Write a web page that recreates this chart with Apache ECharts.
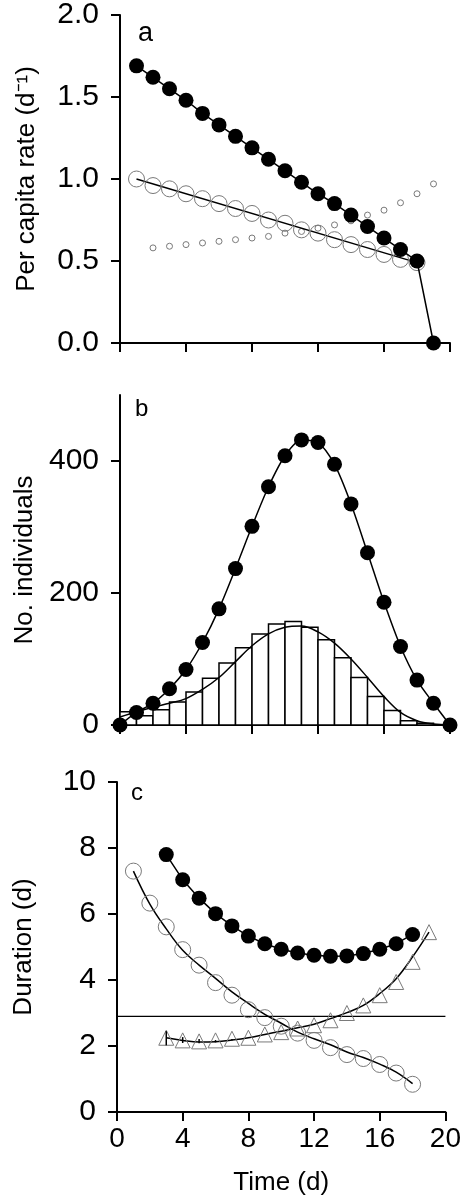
<!DOCTYPE html>
<html><head><meta charset="utf-8">
<script src="https://cdn.jsdelivr.net/npm/echarts@6/dist/echarts.min.js"></script>
<style>html,body{margin:0;padding:0;background:#fff}#c{width:464px;height:1199px}</style>
</head><body><div id="c"></div>
<script>
// ---------- Panel a ----------
const aFilledX = [1,2,3,4,5,6,7,8,9,10,11,12,13,14,15,16,17,18,19];
const aFilledY = [1.69,1.62,1.55,1.48,1.40,1.33,1.26,1.19,1.12,1.05,0.98,0.91,0.85,0.78,0.71,0.64,0.57,0.50,0.00];
const aOpenX = [1,2,3,4,5,6,7,8,9,10,11,12,13,14,15,16,17,18];
const aOpenY = [1.00,0.96,0.94,0.91,0.88,0.85,0.82,0.79,0.75,0.73,0.69,0.67,0.63,0.60,0.57,0.54,0.51,0.49];
const aSmallX = [2,3,4,5,6,7,8,9,10,11,12,13,14,15,16,17,18,19];
const aSmallY = [0.58,0.59,0.60,0.61,0.62,0.63,0.64,0.65,0.67,0.68,0.70,0.72,0.745,0.78,0.81,0.855,0.91,0.97];
const aFitX = [1,18];
const aFitY = [1.00,0.49];
const aTicks = [0,0.5,1.0,1.5,2.0];

// ---------- Panel b ----------
const bDays = [0,1,2,3,4,5,6,7,8,9,10,11,12,13,14,15,16,17,18,19,20];
const bTotal = [0,19,33,55,84,125,176,237,301,361,408,432,428,395,335,261,186,119,68,33,0];
const bHistStart = [0,1,2,3,4,5,6,7,8,9,10,11,12,13,14,15,16,17,18];
const bHist = [20,14,23,35,50,71,94,117,138,153,157,148,129,102,72,43,22,6.5,2.5];
const bFit = [12,20,27,33,40,54,72,96,120,138,148,150,141,124,100,72,43,19,6.5,1.5,0];
const bTicks = [0,200,400];

// ---------- Panel c ----------
const cFilledX = [3,4,5,6,7,8,9,10,11,12,13,14,15,16,17,18];
const cFilledY = [7.80,7.04,6.48,6.01,5.64,5.33,5.10,4.93,4.82,4.75,4.72,4.73,4.80,4.93,5.10,5.38];
const cOpenX = [1,2,3,4,5,6,7,8,9,10,11,12,13,14,15,16,17,18];
const cOpenY = [7.30,6.33,5.61,4.92,4.45,3.92,3.54,3.10,2.86,2.60,2.39,2.17,1.95,1.74,1.62,1.44,1.18,0.84];
const cOpenFit = [7.30,6.30,5.55,4.90,4.45,4.05,3.64,3.29,2.96,2.69,2.42,2.22,2.04,1.82,1.65,1.45,1.21,0.86];
const cTriX = [3,4,5,6,7,8,9,10,11,12,13,14,15,16,17,18,19];
const cTriY = [2.25,2.17,2.14,2.17,2.22,2.25,2.35,2.42,2.53,2.63,2.78,3.00,3.23,3.54,3.94,4.55,5.45];
const cTriFit = [2.25,2.17,2.12,2.13,2.18,2.25,2.35,2.45,2.55,2.66,2.83,3.01,3.23,3.59,4.04,4.70,5.45];
const cErrX = [3,4,5,6,7];
const cErrLo = [2.02,2.09,2.08,2.11,2.17];
const cErrHi = [2.45,2.27,2.21,2.18,2.21];
const cRefX = [0,20];
const cRefY = [2.9,2.9];
const timeTicks = [0,4,8,12,16,20];

const pairs = (xs, ys) => xs.map((x,i)=>[x, ys[i]]);
const FONT = 'Liberation Sans, Arial, Helvetica, sans-serif';
const GRAY = '#7a7a7a';

function xAx(grid, showLabels, name){
  return {
    type:'value', gridIndex:grid, min:0, max:20, interval:4,
    axisLine:{show:true, onZero:false, lineStyle:{color:'#000', width:2}},
    axisTick:{show:true, length:9, customValues:timeTicks, lineStyle:{color:'#000', width:2}},
    axisLabel:{show:showLabels, customValues:timeTicks, fontSize:28, color:'#000', fontFamily:FONT, margin:13},
    splitLine:{show:false},
    name: name || '', nameLocation:'middle', nameGap:58,
    nameTextStyle:{fontSize:26, color:'#000', fontFamily:FONT}
  };
}
function yAx(grid, min, max, interval, ticks, fmt, name){
  return {
    type:'value', gridIndex:grid, min:min, max:max, interval:interval,
    axisLine:{show:true, onZero:false, lineStyle:{color:'#000', width:2}},
    axisTick:{show:true, length:9, customValues:ticks, lineStyle:{color:'#000', width:2}},
    axisLabel:{show:true, customValues:ticks, fontSize:30, color:'#000', fontFamily:FONT, margin:21, formatter:fmt},
    splitLine:{show:false},
    name:name, nameLocation:'middle', nameGap:80,
    nameTextStyle:{fontSize:26, color:'#000', fontFamily:FONT}
  };
}

const chart = echarts.init(document.getElementById('c'), null, {renderer:'canvas'});
chart.setOption({
  animation:false,
  backgroundColor:'#fff',
  grid:[
    {left:120, right:14, top:15, height:328},
    {left:120, right:14, top:395, height:330},
    {left:117, right:17, top:782, height:330}
  ],
  xAxis:[ xAx(0,false), xAx(1,false), xAx(2,true,'Time (d)') ],
  yAxis:[
    yAx(0,0,2,0.5,aTicks,v=>Number(v).toFixed(1),'Per capita rate (d\u207B\u00B9)'),
    yAx(1,0,500,100,bTicks,v=>String(v),'No. individuals'),
    yAx(2,0,10,2,[0,2,4,6,8,10],v=>String(v),'Duration (d)')
  ],
  graphic:[
    {type:'text', left:138, top:20, style:{text:'a', font:'27px '+FONT, fill:'#000'}},
    {type:'text', left:135, top:397, style:{text:'b', font:'24px '+FONT, fill:'#000'}},
    {type:'text', left:131, top:781, style:{text:'c', font:'24px '+FONT, fill:'#000'}}
  ],
  series:[
    // panel a
    {type:'line', xAxisIndex:0, yAxisIndex:0, data:pairs(aSmallX,aSmallY), symbol:'circle', symbolSize:6,
      showAllSymbol:true, lineStyle:{width:0, opacity:0},
      itemStyle:{color:'rgba(0,0,0,0)', borderColor:GRAY, borderWidth:1}, z:2},
    {type:'line', xAxisIndex:0, yAxisIndex:0, data:pairs(aFitX,aFitY), symbol:'none',
      lineStyle:{color:'#000', width:1.5}, z:3},
    {type:'line', xAxisIndex:0, yAxisIndex:0, data:pairs(aOpenX,aOpenY), symbol:'circle', symbolSize:16,
      showAllSymbol:true, lineStyle:{width:0, opacity:0},
      itemStyle:{color:'rgba(0,0,0,0)', borderColor:GRAY, borderWidth:1}, z:3},
    {type:'line', xAxisIndex:0, yAxisIndex:0, data:pairs(aFilledX,aFilledY), symbol:'circle', symbolSize:15,
      showAllSymbol:true, lineStyle:{color:'#000', width:1.5}, itemStyle:{color:'#000'}, z:4},
    // panel b
    {type:'custom', xAxisIndex:1, yAxisIndex:1,
      data: bHistStart.map((s,i)=>[s, s+1, bHist[i]]),
      encode:{x:[0,1], y:2},
      renderItem:(params, api)=>{
        const p0 = api.coord([api.value(0), api.value(2)]);
        const p1 = api.coord([api.value(1), 0]);
        return {type:'rect', shape:{x:p0[0], y:p0[1], width:p1[0]-p0[0], height:p1[1]-p0[1]},
          style:{fill:'#fff', stroke:'#000', lineWidth:1.5}};
      }, z:2},
    {type:'line', xAxisIndex:1, yAxisIndex:1, data:pairs(bDays,bFit), symbol:'none', smooth:0.35,
      lineStyle:{color:'#000', width:1.5}, z:3},
    {type:'line', xAxisIndex:1, yAxisIndex:1, data:pairs(bDays,bTotal), symbol:'circle', symbolSize:15,
      showAllSymbol:true, smooth:0.3, lineStyle:{color:'#000', width:1.5}, itemStyle:{color:'#000'}, z:4},
    // panel c
    {type:'line', xAxisIndex:2, yAxisIndex:2, data:pairs(cRefX,cRefY), symbol:'none',
      lineStyle:{color:'#000', width:1.2}, z:2},
    {type:'line', xAxisIndex:2, yAxisIndex:2, data:pairs(cOpenX,cOpenY), symbol:'circle', symbolSize:16,
      showAllSymbol:true, lineStyle:{width:0, opacity:0},
      itemStyle:{color:'rgba(0,0,0,0)', borderColor:GRAY, borderWidth:1}, z:3},
    {type:'line', xAxisIndex:2, yAxisIndex:2, data:pairs(cOpenX,cOpenFit), symbol:'none', smooth:0.4,
      lineStyle:{color:'#000', width:1.5}, z:3},
    {type:'line', xAxisIndex:2, yAxisIndex:2, data:pairs(cTriX,cTriY), symbol:'triangle', symbolSize:15,
      showAllSymbol:true, lineStyle:{width:0, opacity:0},
      itemStyle:{color:'rgba(0,0,0,0)', borderColor:GRAY, borderWidth:1}, z:3},
    {type:'line', xAxisIndex:2, yAxisIndex:2, data:pairs(cTriX,cTriFit), symbol:'none', smooth:0.4,
      lineStyle:{color:'#000', width:1.5}, z:3},
    {type:'custom', xAxisIndex:2, yAxisIndex:2,
      data: cErrX.map((x,i)=>[x, cErrLo[i], cErrHi[i]]),
      encode:{x:0, y:[1,2]},
      renderItem:(params, api)=>{
        const lo = api.coord([api.value(0), api.value(1)]);
        const hi = api.coord([api.value(0), api.value(2)]);
        return {type:'line', shape:{x1:lo[0], y1:lo[1], x2:hi[0], y2:hi[1]}, style:{stroke:'#000', lineWidth:1.5}};
      }, z:4},
    {type:'line', xAxisIndex:2, yAxisIndex:2, data:pairs(cFilledX,cFilledY), symbol:'circle', symbolSize:15,
      showAllSymbol:true, lineStyle:{color:'#000', width:1.5}, itemStyle:{color:'#000'}, z:4}
  ]
});
</script></body></html>
